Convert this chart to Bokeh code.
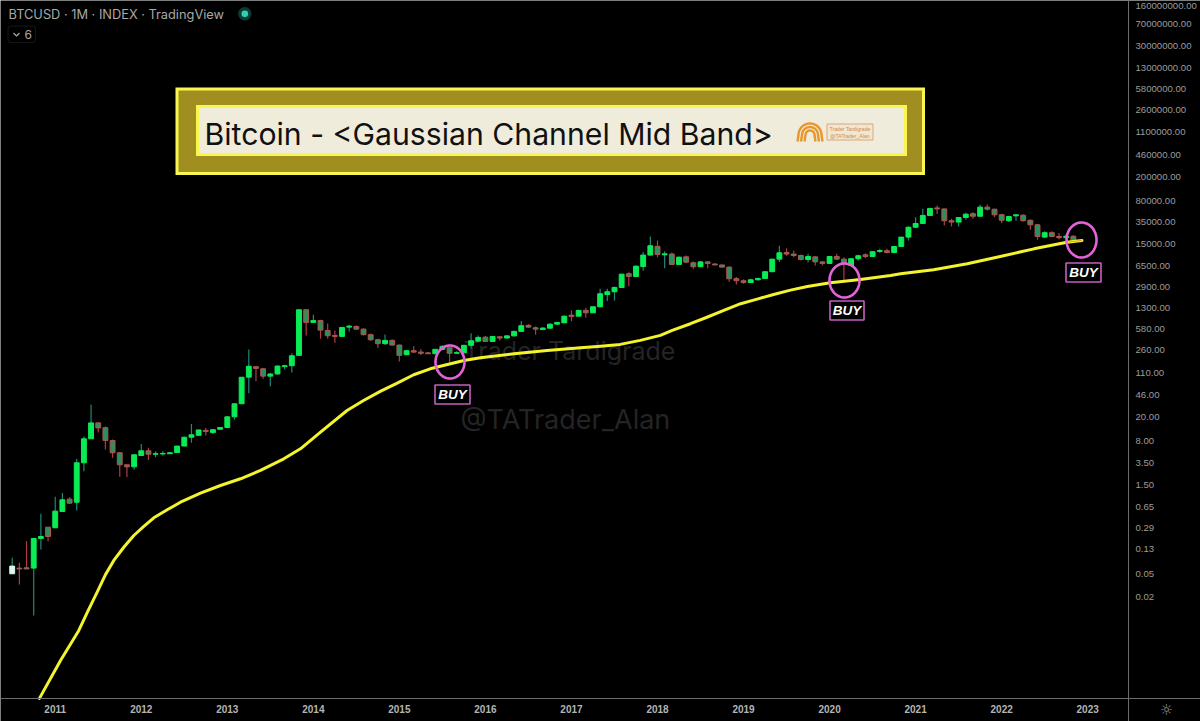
import numpy as np
from bokeh.plotting import figure, ColumnDataSource
from bokeh.models import FixedTicker, PrintfTickFormatter, Label, BoxAnnotation, Range1d
from bokeh.embed import file_html
from bokeh.resources import INLINE

# Monthly candles, July 2010 .. November 2022
opens = [.0496,.0616,.0624,.0616,.192,.296,.289,.54,.865,.77,3.49,8.75,16.1,13.4,8.2,5.13,3.23,2.99,4.61,5.53,4.85,4.9,4.95,5.17,6.62,9.3,10.0,12.1,11.1,12.6,13.5,20.3,33.5,93,139,128,96.6,105,139,144,214,1230,
 757,815,557,460,443,632,650,585,473,390,335,380,318,220,256,243,236,228,270,287,232,236,315,370,430,365,437,416,452,537,675,617,576,607,708,745,1000,962,1200,1095,1380,
 2200,2450,2880,4900,4400,6450,10000,14000,10100,10400,6980,9350,7450,6400,7700,7100,6850,6300,4050,3740,3500,3880,4080,5280,8550,11000,10400,9850,8450,9350,7700,7260,9470,8550,6730,8700,10100,9470,11500,11800,11000,13900,19900,
 29100,33600,45600,61000,58700,37300,35400,42200,48800,44300,62800,58000,47000,37300,45000,46000,38000,31900,19900,23600,20400,19500,20600]
highs = [.0916,.0757,.173,.192,.495,.296,.947,1.10,.934,4.06,9.54,32.2,16.5,14.0,8.5,5.25,3.23,4.74,7.2,6.2,5.45,5.45,5.2,6.7,9.5,15.5,12.3,13.3,12.8,13.6,20.8,34.2,93,269,142,131,108,146,150,232,1230,1230,
 1020,838,727,556,625,693,675,607,495,405,475,395,322,260,305,270,243,272,315,290,250,320,502,460,452,442,442,464,550,796,710,650,632,725,777,985,1200,1225,1330,1385,2750,
 2750,3000,4870,5200,6730,11200,20400,17500,11600,11000,9450,9850,7800,7950,7950,7340,6920,6500,4300,3950,4030,4200,5400,8700,14300,13000,11900,10250,10500,9600,7950,9550,10500,9200,8800,10100,10700,11500,12800,12800,14000,20000,29900,
 42800,59000,61500,67000,59000,40300,42800,50500,51800,68700,69600,59000,48700,45000,48500,48000,39000,33000,25000,25000,23200,22500,21300]
lows = [.0496,.0329,.0597,.01,.126,.173,.289,.54,.725,.561,2.53,8.75,11.1,5.8,4.23,2.04,2.01,2.67,4.61,3.9,4.32,4.61,4.9,5.17,6.62,7.5,10.0,9.9,10.6,12.6,13.3,18.2,33.5,50.2,79.6,87,65.7,103,125,111,214,460,
 745,405,405,347,443,537,570,460,370,283,320,310,169,214,234,218,226,226,260,165,228,236,278,358,360,365,379,410,442,530,617,473,570,597,690,740,795,962,905,1095,1360,
 1720,1750,2880,3030,4300,5500,9850,9200,6060,6850,6900,7340,5900,6300,6060,6850,6300,3600,3240,3330,3420,3780,4040,5230,7700,9750,9200,8100,7500,6730,6730,7200,8350,3880,6650,8100,8900,9350,10900,10700,10900,13800,17500,
 28300,33000,45000,48500,31200,29900,29900,38800,40300,43800,55000,42800,34000,35400,37300,36300,26400,18000,19400,19900,18400,19000,17000]
closes = [.0665,.0597,.0597,.192,.207,.207,.547,.845,.742,3.49,8.75,16.1,13.3,8.2,5.13,3.23,2.99,4.74,5.53,4.85,4.95,5.0,5.13,6.62,9.3,10.2,12.3,11.6,12.4,13.5,20.3,33.5,92.6,141,130,96.6,105,142,144,211,1230,757,
 815,564,454,443,625,657,585,473,390,335,380,318,214,256,243,232,228,270,302,232,238,315,375,426,365,442,416,452,537,667,632,585,610,708,757,962,950,1200,1095,1380,2270,
 2450,2890,4810,4400,6540,10000,14300,10250,10500,6980,9230,7620,6400,7700,7260,6850,6300,4040,3740,3500,3880,4080,5280,8550,10900,10400,9850,8450,9450,7700,7260,9470,8550,7340,8700,9750,9470,11400,11900,11000,13900,19900,29100,
 33600,45600,59700,58700,37300,35400,42200,48000,44300,62800,58000,46800,38000,43800,46800,37300,31900,20400,23600,20400,19500,20600,17500]

# Gaussian channel mid band: month number since July 2010, and price
band_months = [3.8,6.74,9.29,10.54,11.85,13.01,14.17,15.56,16.96,18.35,19.75,21.62,23.47,26.26,29.05,31.84,34.63,37.88,40.2,43.0,
 46.7,49.0,51.4,53.7,56.0,58.3,60.7,63.0,65.3,70.0,74.6,79.3,82.05,84.8,87.6,90.4,92.05,94.6,96.9,99.25,101.6,103.9,106.2,108.55,110.9,114.1,118.3,122.5,
 123.9,128.5,133.2,137.8,142.5,147.1,149.2]
band_prices = [.000418,.00179,.00566,.0117,.0245,.0480,.0827,.137,.215,.304,.424,.577,.77,1.09,1.46,1.89,2.60,4.06,5.96,11.3,
 25.9,37.9,54.4,73.7,102,128,151,176,195,228,259,287,305,326,380,460,558,720,923,1200,1550,1850,2210,2610,3000,3460,3930,4580,
 4890,5700,7170,9480,12700,16400,17500]

# Axes
year_ticks = [6,18,30,42,54,66,78,90,102,114,126,138,150]
year_labels = ["2011","2012","2013","2014","2015","2016","2017","2018","2019","2020","2021","2022","2023"]
price_ticks = [140000000,70000000,30000000,13000000,5800000,2600000,1100000,460000,200000,80000,35000,15000,6500,2900,1300,580,260,110,46,20,8,3.5,1.5,0.65,0.29,0.13,0.05,0.02]
# The topmost label is cut by the window in the reference; its tick sits a little lower so that it stays readable
top_price_tick = {140000000: "160000000.00"}

# Pixel geometry of the reference (page coordinates), for annotations only
def X(px):
    return (px - 11.7) / 7.17
def Y(py):
    return 10 ** (8.204 - (py - 2) / 60.08)
def XS(a):
    return [X(v) for v in a]
def YS(a):
    return [Y(v) for v in a]

p = figure(width=1200, height=721, output_backend="svg", toolbar_location=None,
           y_axis_type="log", y_axis_location="right",
           x_range=Range1d(X(0), X(1200)), y_range=Range1d(Y(721), Y(0)),
           background_fill_color="#000000", border_fill_color="#000000",
           min_border_left=0, min_border_top=0, min_border_right=0, min_border_bottom=0)
p.outline_line_color = None
p.grid.visible = False

AXIS = "#6c6c6c"
LABEL = "#9c9c9c"
p.xaxis.fixed_location = Y(698)
p.xaxis.ticker = FixedTicker(ticks=year_ticks)
p.xaxis.major_label_overrides = dict(zip(year_ticks, year_labels))
p.xaxis.major_label_text_font = "Liberation Sans"
p.xaxis.major_label_text_font_style = "bold"
p.xaxis.major_label_text_font_size = "10px"
p.xaxis.major_label_text_color = "#b4b4b4"
p.xaxis.major_label_standoff = 6
p.xaxis.major_tick_out = 0
p.xaxis.major_tick_in = 0
p.xaxis.major_tick_line_color = None
p.xaxis.minor_tick_line_color = None
p.xaxis.axis_line_color = AXIS
p.yaxis.fixed_location = X(1128)
p.yaxis.ticker = FixedTicker(ticks=price_ticks)
p.yaxis.formatter = PrintfTickFormatter(format="%.2f")
p.yaxis.major_label_overrides = top_price_tick
p.yaxis.major_label_text_font = "Liberation Sans"
p.yaxis.major_label_text_font_size = "9.6px"
p.yaxis.major_label_text_color = LABEL
p.yaxis.major_label_standoff = 7
p.yaxis.major_tick_out = 0
p.yaxis.major_tick_in = 0
p.yaxis.major_tick_line_color = None
p.yaxis.minor_tick_line_color = None
p.yaxis.axis_line_color = AXIS

# Watermarks
WM = "#242424"
p.text(x=[X(463)], y=[Y(350)], text=["Trader Tardigrade"], text_font={"value": "Inter"}, text_font_size="25px",
       text_color=WM, text_baseline="middle")
p.text(x=[X(460)], y=[Y(419)], text=["@TATrader_Alan"], text_font={"value": "Inter"}, text_font_size="27px",
       text_color=WM, text_baseline="middle")

# Candles
months = np.arange(len(opens))
up = [c >= o for o, c in zip(opens, closes)]
body_fill = ["#0aec55" if u else "#2b8f5e" for u in up]
body_line = ["#0aec55" if u else "#b0564e" for u in up]
wick = ["#1f8a78" if u else "#b03a48" for u in up]
body_fill[0] = body_line[0] = "#d9f7ec"
src = ColumnDataSource(dict(m=months, o=opens, h=highs, l=lows, c=closes,
                            top=[max(a, b) for a, b in zip(opens, closes)],
                            bot=[min(a, b) for a, b in zip(opens, closes)],
                            bf=body_fill, bl=body_line, w=wick))
p.segment("m", "h", "m", "l", source=src, line_color="w", line_width=1.2)
p.vbar(x="m", top="top", bottom="bot", width=0.68, source=src, fill_color="bf", line_color="bl", line_width=1)

# Mid band
p.line(band_months, band_prices, line_color="#f4f42c", line_width=3, line_join="round", line_cap="round")
p.line(band_months[-2:], band_prices[-2:], line_color="#e89a3c", line_width=1)

# Pink rings around the buy zones
for cx, cy, rx, ry in [(449.5, 361.5, 14.5, 16.5), (844, 280, 15, 17), (1081, 239.5, 15, 17.5)]:
    t = np.linspace(0, 2 * np.pi, 80)
    p.line(XS(cx + rx * np.cos(t)), YS(cy + ry * np.sin(t)), line_color="#e463d8", line_width=2.6)

# BUY tags
for x0, x1, y0, y1 in [(434.5, 469.5, 384.5, 403.5), (829.5, 863.5, 300.5, 319.5), (1065.5, 1100.5, 262.5, 281.5)]:
    p.quad(left=[X(x0)], right=[X(x1)], top=[Y(y0)], bottom=[Y(y1)], fill_alpha=0, line_color="#c45fc0", line_width=1.6)
    p.add_layout(Label(x=X((x0 + x1) / 2), y=Y((y0 + y1) / 2), text="BUY", text_color="#ffffff",
                       text_font="Liberation Sans", text_font_style="bold italic", text_font_size="13.5px",
                       text_align="center", text_baseline="middle"))

# Title banner
BRIGHT = "#f9f650"
p.quad(left=[X(176.5)], right=[X(923)], top=[Y(88.5)], bottom=[Y(173)], fill_color="#a08f20", line_color=BRIGHT, line_width=3, line_join="miter")
p.quad(left=[X(197)], right=[X(905)], top=[Y(106)], bottom=[Y(154)], fill_color="#efecdc", line_color=BRIGHT, line_width=3, line_join="miter")
p.add_layout(Label(x=X(204), y=Y(133), text="Bitcoin - <Gaussian Channel Mid Band>", text_color="#111111",
                   text_font="Inter", text_font_size="30.2px", text_baseline="middle"))

# Logo in banner
ORANGE = "#e8962e"
for r in (11.5, 8, 4.5):
    t = np.linspace(np.pi, 2 * np.pi, 30)
    xs = np.concatenate([[809.5 - r - 1], 809.5 + r * np.cos(t), [809.5 + r + 1]])
    ys = np.concatenate([[141], 134.5 + r * np.sin(t), [141]])
    p.line(XS(xs), YS(ys), line_color=ORANGE, line_width=2.4)
p.quad(left=[X(826.5)], right=[X(872.5)], top=[Y(123.5)], bottom=[Y(139.5)], fill_color="#f0e6d2", line_color="#d9a878", line_width=1)
for ty, tx in [(128.5, "Trader Tardigrade"), (135, "@TATrader_Alan")]:
    p.add_layout(Label(x=X(849.5), y=Y(ty), text=tx, text_color="#d08a50", text_font="Liberation Sans",
                       text_font_size="5.2px", text_align="center", text_baseline="middle"))

# Header
p.add_layout(Label(x=X(8), y=Y(14), text="BTCUSD \u00b7 1M \u00b7 INDEX \u00b7 TradingView", text_color="#a8a8a8",
                   text_font="Inter", text_font_size="12.8px", text_baseline="middle"))
p.add_layout(BoxAnnotation(left=X(237.5), right=X(251), top=Y(6.5), bottom=Y(20), fill_color="#0d3a33", fill_alpha=1,
                           line_color=None, border_radius=7))
p.add_layout(BoxAnnotation(left=X(241), right=X(247.6), top=Y(10), bottom=Y(16.6), fill_color="#2bd3b5", fill_alpha=1,
                           line_color=None, border_radius=3))
p.add_layout(BoxAnnotation(left=X(7.5), right=X(35), top=Y(25.5), bottom=Y(42), fill_alpha=0, line_color="#4a4a4a",
                           line_width=1, border_radius=3))
p.line(XS([13, 16, 19]), YS([32.5, 35.5, 32.5]), line_color="#a8a8a8", line_width=1.2)
p.add_layout(Label(x=X(24), y=Y(34), text="6", text_color="#a8a8a8", text_font="Inter", text_font_size="12px",
                   text_baseline="middle"))

# Settings icon in the axis corner
p.add_layout(Label(x=X(1166), y=Y(709), text="\u263c", text_color=LABEL,
                   text_font="DejaVu Sans", text_font_size="15px", text_align="center", text_baseline="middle"))

open("out.html", "w").write(file_html(p, INLINE))
